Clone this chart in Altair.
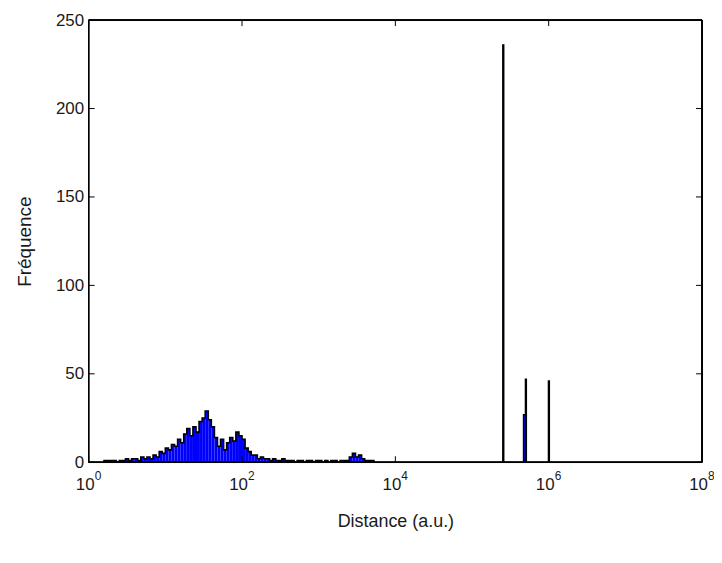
import altair as alt
import pandas as pd

# ---- data ----
hist_start_log = 0.20      # log10 of first bin's left edge
hist_bin_width_log = 0.04  # bin width in decades
hist_counts = [1, 1, 1, 1, 0, 1, 1, 2, 1, 2,
               2, 1, 3, 2, 3, 2, 4, 3, 6, 5,
               8, 7, 10, 9, 13, 11, 16, 19, 15, 20,
               17, 23, 25, 29, 24, 20, 14, 9, 13, 7,
               11, 14, 12, 17, 15, 13, 8, 6, 4, 4,
               2, 3, 2, 2, 1, 2, 1, 1, 2, 1,
               1, 1, 0, 1, 1, 0, 1, 1, 0, 1,
               1, 0, 1, 0, 1, 1, 0, 1, 1, 1,
               3, 5, 3, 4, 2, 1, 1, 1]

spike_lo_log = [5.40, 5.695, 5.67, 5.995]
spike_hi_log = [5.415, 5.71, 5.695, 6.01]
spike_counts = [236, 47, 27, 46]

y_ticks = [0, 50, 100, 150, 200, 250]
x_tick_exps = [0, 2, 4, 6, 8]

W, H = 616, 444
FONT = "Liberation Sans"

# ---- tables ----
lo = [10 ** (hist_start_log + i * hist_bin_width_log) for i in range(len(hist_counts))]
hi = [10 ** (hist_start_log + (i + 1) * hist_bin_width_log) for i in range(len(hist_counts))]
hist_df = pd.DataFrame({"lo": lo, "hi": hi, "count": hist_counts})

# step outline points
ox, oy = [lo[0]], [0]
for a, c in zip(lo, hist_counts):
    ox.append(a); oy.append(c)
ox.append(hi[-1]); oy.append(hist_counts[-1])
ox.append(hi[-1]); oy.append(0)
outline_df = pd.DataFrame({"x": ox, "y": oy, "order": list(range(len(ox)))})

spike_df = pd.DataFrame({"lo": [10 ** v for v in spike_lo_log],
                         "hi": [10 ** v for v in spike_hi_log],
                         "count": spike_counts})

ytick_df = pd.DataFrame({"v": y_ticks})
xtick_df = pd.DataFrame({"v": [10 ** e for e in x_tick_exps],
                         "exp": [str(e) for e in x_tick_exps],
                         "base": ["10"] * len(x_tick_exps)})

xscale = alt.Scale(type="log", domain=[1, 1e8])
yscale = alt.Scale(domain=[0, 250], nice=False)

xaxis = alt.Axis(labels=False, ticks=False, domain=False, grid=False,
                 title="Distance (a.u.)", titleFont=FONT, titleFontSize=18,
                 titleFontWeight="normal", titleColor="#1a1a1a", titlePadding=51)
yaxis = alt.Axis(values=y_ticks, ticks=False, domain=False, grid=False,
                 labelFont=FONT, labelFontSize=17, labelColor="#1a1a1a", labelPadding=5,
                 title="Fréquence", titleFont=FONT, titleFontSize=19,
                 titleFontWeight="normal", titleColor="#1a1a1a", titlePadding=21)

fill = alt.Chart(hist_df).mark_rect(color="#0000FF").encode(
    x=alt.X("lo:Q", scale=xscale, axis=xaxis),
    x2="hi:Q",
    y=alt.Y("count:Q", scale=yscale, axis=yaxis),
    y2=alt.datum(0),
)

outline = alt.Chart(outline_df).mark_line(
    color="black", strokeWidth=1.6, interpolate="step-after"
).encode(
    x=alt.X("x:Q", scale=xscale),
    y=alt.Y("y:Q", scale=yscale),
    order="order:Q",
)

spikes = alt.Chart(spike_df).mark_rect(
    fill="#0000FF", stroke="black", strokeWidth=1.2
).encode(
    x=alt.X("lo:Q", scale=xscale),
    x2="hi:Q",
    y=alt.Y("count:Q", scale=yscale),
    y2=alt.datum(0),
)

frame = alt.Chart(ytick_df).mark_rect(filled=False, stroke="black", strokeWidth=1).encode(
    x=alt.value(0), x2=alt.value(W), y=alt.value(0), y2=alt.value(H))

ytl = alt.Chart(ytick_df).mark_rule(color="black").encode(
    y=alt.Y("v:Q", scale=yscale), x=alt.value(0), x2=alt.value(6))
ytr = alt.Chart(ytick_df).mark_rule(color="black").encode(
    y=alt.Y("v:Q", scale=yscale), x=alt.value(W - 6), x2=alt.value(W))
xtb = alt.Chart(xtick_df).mark_rule(color="black").encode(
    x=alt.X("v:Q", scale=xscale), y=alt.value(H), y2=alt.value(H - 6))
xtt = alt.Chart(xtick_df).mark_rule(color="black").encode(
    x=alt.X("v:Q", scale=xscale), y=alt.value(0), y2=alt.value(6))

base_lbl = alt.Chart(xtick_df).mark_text(
    font=FONT, fontSize=17, color="#1a1a1a", align="right", baseline="top", dx=6
).encode(x=alt.X("v:Q", scale=xscale), y=alt.value(H + 15), text="base:N")
exp_lbl = alt.Chart(xtick_df).mark_text(
    font=FONT, fontSize=12, color="#1a1a1a", align="left", baseline="top", dx=6
).encode(x=alt.X("v:Q", scale=xscale), y=alt.value(H + 9), text="exp:N")

chart = alt.layer(fill, outline, spikes, frame, ytl, ytr, xtb, xtt, base_lbl, exp_lbl).properties(
    width=W, height=H,
    autosize=alt.AutoSizeParams(type="none"),
    padding={"left": 81, "top": 11, "right": 12, "bottom": 92},
).configure_view(strokeWidth=0).configure(background="white")

chart.save("out.html", embed_options={"renderer": "svg", "actions": False})
